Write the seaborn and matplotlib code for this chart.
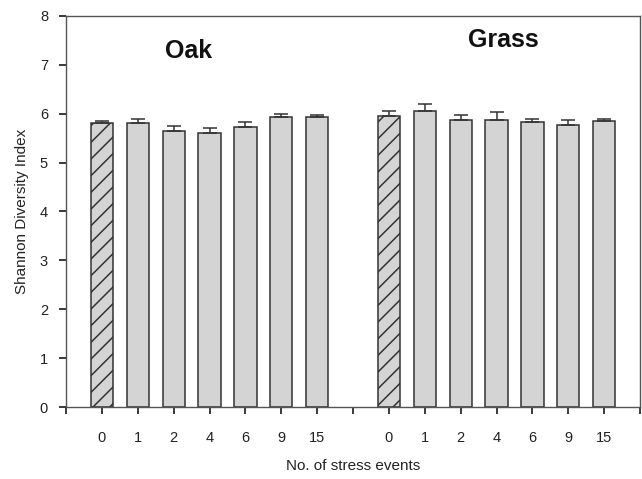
import matplotlib
matplotlib.use("Agg")
import matplotlib.pyplot as plt
import seaborn as sns
import pandas as pd
import numpy as np

events = ["0", "1", "2", "4", "6", "9", "15"]
oak_values = [5.80, 5.80, 5.65, 5.60, 5.72, 5.93, 5.93]
oak_err = [0.05, 0.10, 0.10, 0.10, 0.10, 0.07, 0.05]
grass_values = [5.95, 6.05, 5.87, 5.87, 5.82, 5.77, 5.85]
grass_err = [0.11, 0.14, 0.10, 0.17, 0.07, 0.10, 0.04]
groups = ["Oak", "Grass"]

sns.set_theme(style="ticks")
plt.rcParams['font.family'] = ['Liberation Sans', 'DejaVu Sans']
plt.rcParams['hatch.color'] = "#2a2a2a"
plt.rcParams['hatch.linewidth'] = 1.1

# category slots: spacer, oak bars, spacer, grass bars, spacer
slots = ["L"] + [f"Oak{e}" for e in events] + ["M"] + [f"Grass{e}" for e in events] + ["R"]
rows = []
for g, vals, errs in [("Oak", oak_values, oak_err), ("Grass", grass_values, grass_err)]:
    for e, v, s in zip(events, vals, errs):
        rows.append({"slot": f"{g}{e}", "value": v, "err": s, "group": g, "event": e})
df = pd.DataFrame(rows)

fig = plt.figure(figsize=(6.42, 4.79), dpi=100)
ax = fig.add_axes([0.103, 0.150, 0.894, 0.817])

sns.barplot(data=df, x="slot", y="value", order=slots, color="#d4d4d4",
            edgecolor="#333333", linewidth=1.1, width=0.62, ax=ax,
            errorbar=None, saturation=1)

pos = {s: i for i, s in enumerate(slots)}
xs = [pos[s] for s in df["slot"]]
ax.errorbar(xs, df["value"], yerr=[np.zeros(len(df)), df["err"]], fmt="none",
            ecolor="#333333", elinewidth=1.1, capsize=5, capthick=1.1)

# hatch the control (0) bars
for patch in ax.patches:
    cx = patch.get_x() + patch.get_width() / 2
    if round(cx) in (pos["Oak0"], pos["Grass0"]):
        patch.set_hatch("//")

ax.set_xlim(0, len(slots) - 1)
ax.set_ylim(0, 8)
ax.set_yticks(range(0, 9))
ax.set_xticks(range(len(slots)))
labels = [""] + events + [""] + events + [""]
ax.set_xticklabels(labels)
ax.tick_params(axis="both", labelsize=10.5, colors="#222222", direction="out", length=5)
ax.tick_params(axis="x", pad=12)
ax.tick_params(axis="y", pad=8)
for sp in ax.spines.values():
    sp.set_visible(True)
    sp.set_color("#555555")
    sp.set_linewidth(1.0)

ax.set_xlabel("No. of stress events", fontsize=11, color="#222222", labelpad=10)
ax.set_ylabel("Shannon Diversity Index", fontsize=11, color="#222222", labelpad=8)

ax.text(pos["Oak4"] - 0.6, 7.28, groups[0], fontsize=18, fontweight="bold", ha="center", va="center", color="#111111")
ax.text(pos["Grass4"] + 0.2, 7.50, groups[1], fontsize=18, fontweight="bold", ha="center", va="center", color="#111111")

fig.savefig("out.png", dpi=100)
